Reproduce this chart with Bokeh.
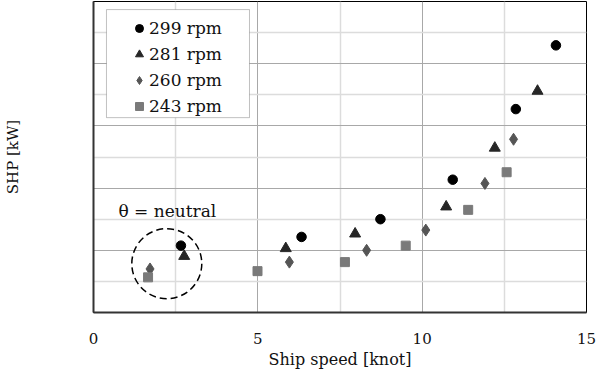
from bokeh.plotting import figure
from bokeh.models import FixedTicker, Legend, LegendItem, BoxAnnotation
from bokeh.core.properties import value
from bokeh.embed import file_html
from bokeh.resources import INLINE

# ---- data ----
x_major_ticks = [0, 5, 10, 15]
x_minor_ticks = [2.5, 7.5, 12.5]
y_major_ticks = [2, 4, 6, 8]
y_minor_ticks = [1, 3, 5, 7, 9]

series_labels = ["299 rpm", "281 rpm", "260 rpm", "243 rpm"]

speed_299 = [2.66, 6.33, 8.73, 10.93, 12.85, 14.07]
shp_299 = [2.15, 2.43, 3.00, 4.27, 6.54, 8.59]

speed_281 = [2.76, 5.85, 7.96, 10.73, 12.21, 13.51]
shp_281 = [1.81, 2.06, 2.53, 3.40, 5.29, 7.12]

speed_260 = [1.72, 5.96, 8.31, 10.11, 11.91, 12.78]
shp_260 = [1.40, 1.62, 2.00, 2.65, 4.15, 5.57]

speed_243 = [1.66, 4.99, 7.65, 9.50, 11.40, 12.57]
shp_243 = [1.13, 1.33, 1.62, 2.15, 3.30, 4.51]

neutral_x = [2.23]
neutral_y = [1.57]
note_x = [0.76]
note_y = [3.25]
note_text = ["θ = neutral"]

x_title = "Ship speed [knot]"
y_title = "SHP [kW]"

FONT = "DejaVu Serif"

p = figure(width=596, height=371, x_range=(0, 15), y_range=(0, 10),
           output_backend="svg", toolbar_location=None,
           min_border_left=93, min_border_right=10, min_border_top=1, min_border_bottom=40)

p.background_fill_color = "white"
p.border_fill_color = "white"
p.outline_line_color = "black"
p.outline_line_width = 1

p.xaxis.ticker = FixedTicker(ticks=x_major_ticks, minor_ticks=x_minor_ticks)
p.yaxis.ticker = FixedTicker(ticks=y_major_ticks, minor_ticks=y_minor_ticks)
p.yaxis.major_label_overrides = {t: "" for t in y_major_ticks}

for ax in (p.xaxis, p.yaxis):
    ax.axis_line_color = "#333333"
    ax.axis_line_width = 2
    ax.major_tick_line_color = None
    ax.minor_tick_line_color = None
    ax.major_tick_out = 0
    ax.major_tick_in = 0
    ax.major_label_text_font = FONT
    ax.major_label_text_font_size = "15px"
    ax.major_label_text_color = "#111111"
    ax.axis_label_text_font = FONT
    ax.axis_label_text_font_style = "normal"
    ax.axis_label_text_color = "#111111"

p.xaxis.axis_label = x_title
p.xaxis.axis_label_text_font_size = "16px"
p.xaxis.major_label_standoff = 16
p.xaxis.axis_label_standoff = 3

p.yaxis.axis_label = y_title
p.yaxis.axis_label_text_font_size = "15px"
p.yaxis.major_label_standoff = 0
p.yaxis.axis_label_standoff = 68

for g in (p.xgrid, p.ygrid):
    g.grid_line_color = "#a8a8a8"
    g.grid_line_width = 1
    g.minor_grid_line_color = "#dcdcdc"
    g.minor_grid_line_width = 1.5

r299 = p.scatter(speed_299, shp_299, marker="circle", size=9.5,
                 fill_color="#000000", line_color="#000000")
r281 = p.scatter(speed_281, shp_281, marker="triangle", size=11,
                 fill_color="#262626", line_color="#262626")
r260 = p.scatter(speed_260, shp_260, marker="diamond", size=12,
                 fill_color="#555555", line_color="#555555")
r243 = p.scatter(speed_243, shp_243, marker="square", size=9,
                 fill_color="#7a7a7a", line_color="#7a7a7a")

p.scatter(neutral_x, neutral_y, marker="circle", size=70, fill_color=None,
          line_color="black", line_width=1.5, line_dash="7 4")

p.text(note_x, note_y, text=note_text, text_font=value(FONT), text_font_size="17px",
       text_baseline="middle", text_align="left", text_color="#111111")

# legend frame (drawn behind the legend entries)
p.add_layout(BoxAnnotation(left=0.395, right=4.746, bottom=6.266, top=9.74,
                           fill_color="white", fill_alpha=1,
                           line_color="#333333", line_width=1))

legend = Legend(items=[LegendItem(label=series_labels[0], renderers=[r299]),
                       LegendItem(label=series_labels[1], renderers=[r281]),
                       LegendItem(label=series_labels[2], renderers=[r260]),
                       LegendItem(label=series_labels[3], renderers=[r243])],
                location=(36, 194))
legend.margin = 0
legend.padding = 0
legend.spacing = 1
legend.glyph_width = 20
legend.glyph_height = 20
legend.label_height = 25
legend.label_standoff = 0
legend.label_text_font = FONT
legend.label_text_font_size = "17px"
legend.label_text_line_height = 1.0
legend.label_text_color = "#111111"
legend.border_line_color = None
legend.background_fill_alpha = 0
p.add_layout(legend, "center")

open("out.html", "w").write(file_html(p, INLINE))
